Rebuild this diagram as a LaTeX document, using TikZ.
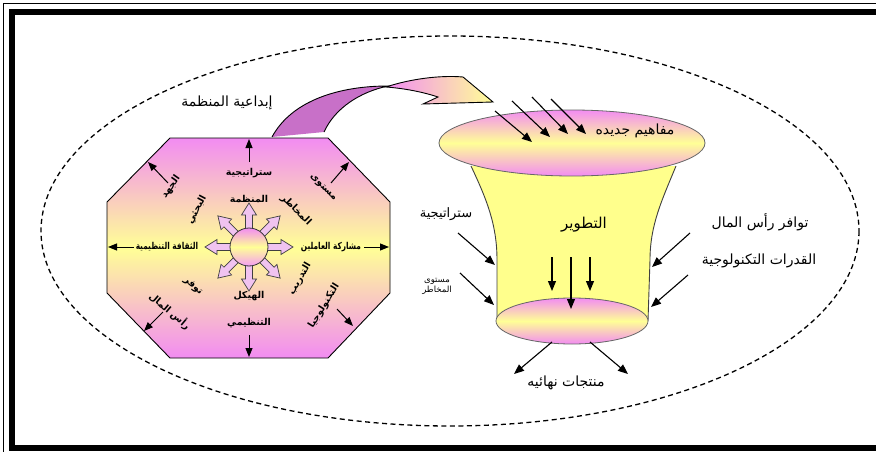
\documentclass[tikz,border=0pt]{standalone}
\usepackage{fontspec}
\TeXXeTstate=1
\newfontfamily\arabicfont[Script=Arabic]{DejaVu Sans}
\usetikzlibrary{arrows.meta,shapes.geometric}
\newcommand\rtltext[1]{\beginR #1\endR}
\definecolor{rimpink}{RGB}{242,140,242}
\definecolor{softyellow}{RGB}{255,255,150}
\definecolor{bodyyellow}{RGB}{255,255,140}
\definecolor{bandpurple}{RGB}{200,112,200}
\definecolor{hubarrow}{RGB}{240,195,240}
\begin{document}
\begin{tikzpicture}[x=1pt,y=-1pt,
  arr/.style={-{Triangle[length=10pt,width=8pt]}, line width=1.1pt},
  arrsm/.style={-{Triangle[length=9pt,width=7pt]}, line width=1pt},
  lbl/.style={font=\fontsize{14}{16}\selectfont\arabicfont, inner sep=0pt},
  smalllbl/.style={font=\fontsize{8.5}{10}\selectfont\arabicfont, inner sep=0pt, align=center},
  octlbl/.style={font=\fontsize{9.5}{11}\selectfont\bfseries\arabicfont, inner sep=0pt},
  blockarrow/.style={draw=black!75, line width=0.7pt, fill=hubarrow},
  rim/.style={ellipse, draw=black!60, line width=0.8pt, top color=rimpink, bottom color=rimpink, middle color=softyellow, inner sep=0pt}]
\useasboundingbox (0,0) rectangle (876,452);
\clip (0,0) rectangle (876,452);
\fill[white] (0,0) rectangle (876,452);

% page frame: thin outer line and heavy inner border
\draw[line width=1pt] (3.5,3.5) rectangle (900,470);
\draw[line width=6pt] (12,12) rectangle (890,447.5);

% dashed boundary of the environment
\draw[line width=1.3pt, dash pattern=on 5pt off 3.5pt] (450,231) ellipse [x radius=409, y radius=195];

% ---------- octagon: sources of creativity ----------
\shadedraw[draw=black, line width=0.9pt, top color=rimpink, bottom color=rimpink, middle color=softyellow]
  (170,138) -- (328,138) -- (390,202) -- (390,293) -- (328,358) -- (170,358) -- (107,293) -- (107,202) -- cycle;

% hollow arrows radiating from the hub
\foreach \a in {0,45,...,315}{
  \begin{scope}[shift={(249,247)}, rotate=\a]
    \draw[blockarrow] (12,-3.5) -- (32,-3.5) -- (32,-7.5) -- (44,0) -- (32,7.5) -- (32,3.5) -- (12,3.5) -- cycle;
  \end{scope}}
\node[circle, draw=black!80, line width=0.8pt, minimum size=38pt, inner sep=0pt,
      top color=rimpink, bottom color=rimpink!85, middle color=softyellow] (hub) at (249,247) {};

% labels around the hub
\node[octlbl] (sT1) at (249,173) {\rtltext{ستراتيجية}};
\node[octlbl] (sT2) at (249,199) {\rtltext{المنظمة}};
\node[octlbl] (sB1) at (249,296) {\rtltext{الهيكل}};
\node[octlbl] (sB2) at (249,323) {\rtltext{التنظيمي}};
\node[octlbl, xscale=0.78] (sL)  at (167,247) {\rtltext{الثقافة التنظيمية}};
\node[octlbl, xscale=0.78] (sR)  at (331,247) {\rtltext{مشاركة العاملين}};
\node[octlbl, rotate=55] (sTL1) at (171,187) {\rtltext{الجهد}};
\node[octlbl, rotate=62] (sTL2) at (197,210) {\rtltext{البحثي}};
\node[octlbl, rotate=-45] (sTR1) at (323,188) {\rtltext{مستوى}};
\node[octlbl, rotate=-45] (sTR2) at (296,210) {\rtltext{المخاطر}};
\node[octlbl, rotate=-40] (sBL1) at (193,286) {\rtltext{توفر}};
\node[octlbl, rotate=-40] (sBL2) at (170,311) {\rtltext{رأس المال}};
\node[octlbl, rotate=60] (sBR1) at (300,279) {\rtltext{التدريب}};
\node[octlbl, rotate=58] (sBR2) at (324,306) {\rtltext{التكنولوجيا}};

% arrows towards the octagon's sides
\coordinate (oT0) at (249,162);  \coordinate (oT1) at (249,139);
\coordinate (oB0) at (249,335);  \coordinate (oB1) at (249,357);
\coordinate (oL0) at (134,247);  \coordinate (oL1) at (108,247);
\coordinate (oR0) at (364,247);  \coordinate (oR1) at (389,247);
\coordinate (oTL0) at (168,183); \coordinate (oTL1) at (148,162);
\coordinate (oTR0) at (331,183); \coordinate (oTR1) at (349,162);
\coordinate (oBL0) at (163,312); \coordinate (oBL1) at (144,331);
\coordinate (oBR0) at (337,309); \coordinate (oBR1) at (353,326);
\foreach \s in {T,B,L,R,TL,TR,BL,BR}{\draw[arrsm] (o\s0) -- (o\s1);}

\node[lbl] (creat) at (227,103) {\rtltext{إبداعية المنظمة}};

% ---------- curved transfer arrow ----------
\fill[bandpurple] (272,137) .. controls (292,100) and (340,86) .. (388,86)
  .. controls (360,92) and (335,108) .. (324,132) -- cycle;
\draw[black, line width=0.9pt] (272,137) .. controls (292,100) and (340,86) .. (388,86)
  .. controls (360,92) and (335,108) .. (324,132);
\shadedraw[draw=black, line width=0.9pt, left color=rimpink, right color=softyellow]
  (386,87) .. controls (410,79) and (440,75) .. (463,77) -- (493,102) -- (423,104)
  -- (438,97) .. controls (420,91) and (400,88) .. (386,87) -- cycle;

% ---------- funnel ----------
\fill[bodyyellow] (471,166) .. controls (487,200) and (497,225) .. (497,260) -- (497,321)
  -- (648,321) -- (650,260) .. controls (650,225) and (662,200) .. (676,166) -- cycle;
\draw[black!75, line width=0.9pt] (471,166) .. controls (487,200) and (497,225) .. (497,260) -- (497,321);
\draw[black!75, line width=0.9pt] (676,166) .. controls (662,200) and (650,225) .. (650,260) -- (648,321);
\node[rim, minimum width=266pt, minimum height=66pt] (topE) at (572,143) {};
\node[rim, minimum width=152pt, minimum height=46pt] (botE) at (572,321) {};

% new concepts entering the top
\node[lbl] (newc) at (635,131) {\rtltext{مفاهيم جديده}};
\coordinate (n1a) at (495,111); \coordinate (n1b) at (532,142);
\coordinate (n2a) at (512,101); \coordinate (n2b) at (550,137);
\coordinate (n3a) at (532,97);  \coordinate (n3b) at (568,134);
\coordinate (n4a) at (551,99);  \coordinate (n4b) at (586,134);
\foreach \k in {1,2,3,4}{\draw[arr] (n\k a) -- (n\k b);}

% development inside the funnel
\node[font=\fontsize{15}{17}\selectfont\arabicfont, inner sep=0pt] (dev) at (584,225) {\rtltext{التطوير}};
\coordinate (d1a) at (552,257); \coordinate (d1b) at (552,291);
\coordinate (d2a) at (571,257); \coordinate (d2b) at (571,309);
\coordinate (d3a) at (590,257); \coordinate (d3b) at (590,291);
\foreach \k in {1,2,3}{\draw[arr] (d\k a) -- (d\k b);}

% influences on the left side
\node[font=\fontsize{13}{15}\selectfont\arabicfont, inner sep=0pt] (strat) at (446,214) {\rtltext{ستراتيجية}};
\node[smalllbl] (risk) at (437,286) {\rtltext{مستوى}\\\rtltext{المخاطر}};
\coordinate (l1a) at (458,233); \coordinate (l1b) at (495,265);
\coordinate (l2a) at (460,273); \coordinate (l2b) at (494,305);
\draw[arr] (l1a) -- (l1b);
\draw[arr] (l2a) -- (l2b);

% influences on the right side
\node[lbl] (capital) at (760,222) {\rtltext{توافر رأس المال}};
\node[lbl] (tech) at (759,261) {\rtltext{القدرات التكنولوجية}};
\coordinate (r1a) at (690,233); \coordinate (r1b) at (652,267);
\coordinate (r2a) at (688,275); \coordinate (r2b) at (651,307);
\draw[arr] (r1a) -- (r1b);
\draw[arr] (r2a) -- (r2b);

% outputs
\node[lbl] (final) at (566,383) {\rtltext{منتجات نهائيه}};
\coordinate (o1a) at (552,342); \coordinate (o1b) at (514,374);
\coordinate (o2a) at (590,342); \coordinate (o2b) at (628,374);
\draw[arr] (o1a) -- (o1b);
\draw[arr] (o2a) -- (o2b);
\end{tikzpicture}
\end{document}
